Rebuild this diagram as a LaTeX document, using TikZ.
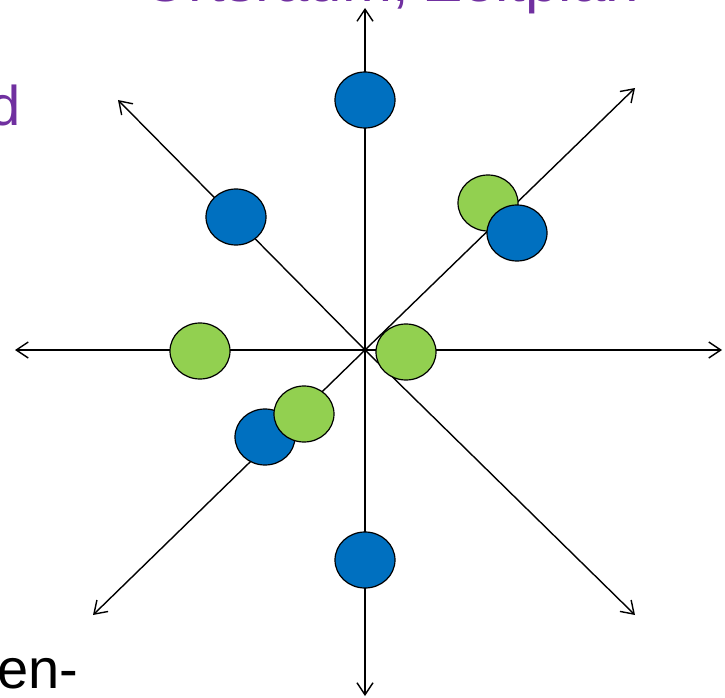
\documentclass[tikz,border=0pt]{standalone}
\usepackage{fontspec}
\setmainfont{Liberation Sans}
\usetikzlibrary{arrows.meta,shapes.geometric}
\definecolor{ptblue}{HTML}{0070C0}
\definecolor{ptgreen}{HTML}{92D050}
\definecolor{ptpurple}{HTML}{7030A0}
\tikzset{
  axis/.style={line width=1.4pt, -{Straight Barb[length=12pt,width=16pt,line width=1.4pt]}},
  dot/.style={ellipse, draw=black, line width=1.2pt, minimum width=60pt, minimum height=56pt, inner sep=0pt},
  bluedot/.style={dot, fill=ptblue},
  greendot/.style={dot, fill=ptgreen},
  bigtext/.style={inner sep=0pt, font=\fontsize{56}{60}\selectfont},
  titletext/.style={inner sep=0pt, font=\fontsize{60}{64}\selectfont}
}
\begin{document}
\begin{tikzpicture}[x=1pt,y=-1pt]
\useasboundingbox (0,0) rectangle (725,698);
\coordinate (c) at (365,350);
\coordinate (n) at (365,8);
\coordinate (s) at (365,696);
\coordinate (w) at (15,350);
\coordinate (e) at (722,350);
\coordinate (nw) at (118,100);
\coordinate (se) at (635,615);
\coordinate (ne) at (635,88);
\coordinate (sw) at (93,615);
\foreach \t in {n,s,w,e,nw,se,ne,sw} \draw[axis] (c) -- (\t);
\node[bluedot] (b1) at (365,100) {};
\node[bluedot] (b2) at (236,217) {};
\node[greendot] (g1) at (488,203) {};
\node[bluedot] (b3) at (517,233) {};
\node[greendot] (g2) at (200,351) {};
\node[greendot] (g3) at (406,352) {};
\node[bluedot] (b4) at (265,437) {};
\node[greendot] (g4) at (304,414) {};
\node[bluedot] (b5) at (365,560) {};
\node[titletext, text=ptpurple, anchor=base west] (title) at (142,2) {Ortsraum, Zeitplan};
\node[bigtext, text=ptpurple, anchor=base east] (dleft) at (21,125) {d};
\node[bigtext, text=black, anchor=base west] (enleft) at (-3,688) {en-};
\end{tikzpicture}
\end{document}
